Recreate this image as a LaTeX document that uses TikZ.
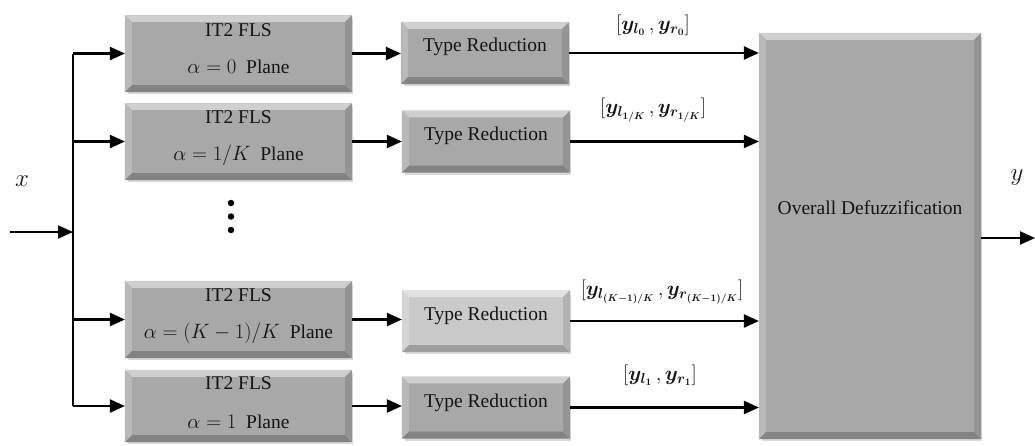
\documentclass[tikz,border=0pt]{standalone}
\usepackage{fontspec}
\setmainfont{Liberation Serif}
\usepackage{bm}
\usetikzlibrary{arrows.meta,calc,shadows}
\definecolor{boxgray}{RGB}{168,168,168}
\definecolor{boxlight}{RGB}{202,202,202}
\definecolor{txtcol}{RGB}{20,20,20}
\newcommand\bevelbox[2]{%
  \fill[#2!55!white] (#1.north west) -- (#1.north east) -- ($(#1.north east)+(-7,7)$) -- ($(#1.north west)+(7,7)$) -- cycle;
  \fill[#2!80!white] (#1.north west) -- ($(#1.north west)+(7,7)$) -- ($(#1.south west)+(7,-7)$) -- (#1.south west) -- cycle;
  \fill[#2!78!black] (#1.south west) -- ($(#1.south west)+(7,-7)$) -- ($(#1.south east)+(-7,-7)$) -- (#1.south east) -- cycle;
  \fill[#2!88!black] (#1.north east) -- (#1.south east) -- ($(#1.south east)+(-7,-7)$) -- ($(#1.north east)+(-7,7)$) -- cycle;
}
\begin{document}
\begin{tikzpicture}[x=1pt,y=-1pt,
  font=\fontsize{19.5}{23}\selectfont,
  line width=2.2pt,
  >={Triangle[length=15pt,width=13pt]},
  shade/.style={drop shadow={shadow xshift=1.5pt,shadow yshift=-3pt,opacity=0.3}},
  fls/.style={fill=boxgray,inner sep=0pt,minimum width=225pt,minimum height=75pt,shade},
  tr/.style={fill=boxgray,inner sep=0pt,minimum width=166pt,minimum height=60pt,shade,text=txtcol},
  big/.style={fill=boxgray,inner sep=0pt,minimum width=220pt,minimum height=404pt,shade},
  lbl/.style={inner sep=1pt,text=txtcol},
  io/.style={inner sep=1pt,text=txtcol,font=\fontsize{24}{28}\selectfont},
  dot/.style={circle,fill=black,inner sep=0pt,minimum size=6.5pt}]
\useasboundingbox (0,0) rectangle (1035,445);

% boxes
\node[fls] (f1) at (238.5,53.5) {};
\node[fls] (f2) at (238.5,141.5) {};
\node[fls] (f3) at (238.5,319.5) {};
\node[fls,minimum height=70pt] (f4) at (238.5,406) {};
\node[tr] (t1) at (485,53) {};
\node[tr] (t2) at (486,141.5) {};
\node[tr,fill=boxlight] (t3) at (486,321) {};
\node[tr] (t4) at (486,407.5) {};
\node[big] (D) at (870,236) {};

\bevelbox{f1}{boxgray}
\bevelbox{f2}{boxgray}
\bevelbox{f3}{boxgray}
\bevelbox{f4}{boxgray}
\bevelbox{t1}{boxgray}
\bevelbox{t2}{boxgray}
\bevelbox{t3}{boxlight}
\bevelbox{t4}{boxgray}
\bevelbox{D}{boxgray}

% texts
\node[lbl] (f1a) at ($(f1.center)+(0,-23.5)$) {IT2 FLS};
\node[lbl] (f1b) at ($(f1.center)+(0,13.5)$) {$\alpha=0$\enspace Plane};
\node[lbl] (f2a) at ($(f2.center)+(0,-24.5)$) {IT2 FLS};
\node[lbl] (f2b) at ($(f2.center)+(0,13.5)$) {$\alpha=1/K$\enspace Plane};
\node[lbl] (f3a) at ($(f3.center)+(0,-24.5)$) {IT2 FLS};
\node[lbl] (f3b) at ($(f3.center)+(0,13.5)$) {$\alpha=(K-1)/K$\enspace Plane};
\node[lbl] (f4a) at ($(f4.center)+(0,-23)$) {IT2 FLS};
\node[lbl] (f4b) at ($(f4.center)+(0,16)$) {$\alpha=1$\enspace Plane};
\node[lbl] (t1l) at ($(t1.center)+(0,-6)$) {Type Reduction};
\node[lbl] (t2l) at ($(t2.center)+(0,-6)$) {Type Reduction};
\node[lbl] (t3l) at ($(t3.center)+(0,-5)$) {Type Reduction};
\node[lbl] (t4l) at ($(t4.center)+(0,-5)$) {Type Reduction};
\node[lbl] (Dl) at (870,208) {Overall Defuzzification};

\node[lbl] (L1) at (653,25) {$[\bm{y_{l_0}}\,,\bm{y_{r_0}}]$};
\node[lbl] (L2) at (653,110) {$[\bm{y_{l_{1/K}}}\,,\bm{y_{r_{1/K}}}]$};
\node[lbl] (L3) at (662,292) {$[\bm{y_{l_{(K-1)/K}}}\,,\bm{y_{r_{(K-1)/K}}}]$};
\node[lbl] (L4) at (660,375) {$[\bm{y_{l_1}}\,,\bm{y_{r_1}}]$};
\node[io] (xl) at (22,181) {$x$};
\node[io] (yl) at (1017,178) {$y$};

% dots
\node[dot] (d1) at (231,203) {};
\node[dot] (d2) at (231,216.5) {};
\node[dot] (d3) at (231,230) {};

% connectors
\coordinate (in) at (10,232);
\coordinate (j) at (73,232);
\coordinate (jt) at (73,53.5);
\coordinate (jb) at (73,406);
\coordinate (out) at (1035,238);
\draw (jt) -- (jb);
\draw[->] (in) -- (j);
\draw[->] (jt) -- (f1.west);
\draw[->] (j |- f2.west) -- (f2.west);
\draw[->] (j |- f3.west) -- (f3.west);
\draw[->] (jb) -- (f4.west);
\draw[->] (f1.east) -- (t1.west |- f1.east);
\draw[->] (f2.east) -- (t2.west |- f2.east);
\draw[->] (f3.east) -- (t3.west |- f3.east);
\draw[->] (f4.east) -- (t4.west |- f4.east);
\draw[->] (t1.east) -- (D.west |- t1.east);
\draw[->] (t2.east) -- (D.west |- t2.east);
\draw[->] (t3.east) -- (D.west |- t3.east);
\draw[->] (t4.east) -- (D.west |- t4.east);
\draw[->] (D.east |- out) -- (out);
\end{tikzpicture}
\end{document}
